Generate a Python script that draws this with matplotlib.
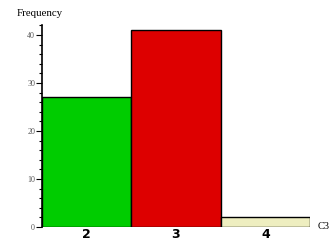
import matplotlib.pyplot as plt
from matplotlib.ticker import MultipleLocator

categories = ["2", "3", "4"]
counts = [27, 41, 2]
colors = ["#00cc00", "#dd0000", "#eeeec0"]

W, H = 331, 243
fig = plt.figure(figsize=(W / 100, H / 100), dpi=100)
ax = fig.add_axes([42 / W, 16 / H, (310 - 42) / W, (227 - 25) / H])

x = list(range(len(categories)))
ax.bar(x, counts, width=1.0, color=colors, edgecolor="black", linewidth=1.0)
ax.set_xlim(-0.5, 2.5)
ax.set_ylim(0, 42.1)

for s in ["top", "right", "bottom"]:
    ax.spines[s].set_visible(False)
ax.spines["left"].set_linewidth(1.2)

ax.yaxis.set_major_locator(MultipleLocator(10))
ax.yaxis.set_minor_locator(MultipleLocator(2))
ax.tick_params(axis="y", which="major", length=4, width=0.8, labelsize=5.8,
               labelcolor="#555555", pad=1)
ax.tick_params(axis="y", which="minor", length=2, width=0.8)
for lbl in ax.get_yticklabels():
    lbl.set_family("Liberation Serif")

ax.set_xticks(x)
ax.set_xticklabels(categories, fontsize=9, fontweight="bold")
ax.tick_params(axis="x", length=0, pad=1)

fig.text(17 / W, 1 - 14 / H, "Frequency", fontsize=7.8, family="Liberation Serif", va="center")
fig.text(318 / W, 1 - 226 / H, "C3", fontsize=7.5, family="Liberation Serif", va="center")

fig.savefig("out.png", dpi=100)
